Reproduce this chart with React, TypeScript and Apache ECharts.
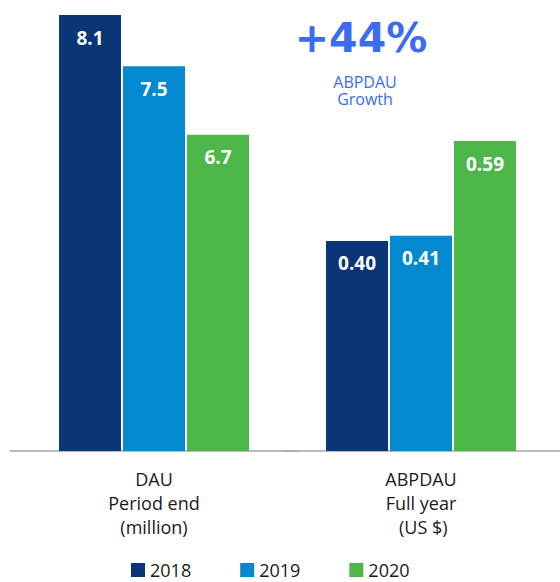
import React, { useEffect, useRef } from "react";
import * as echarts from "echarts";

const years = ["2018", "2019", "2020"];
const dauValues = [8.1, 7.5, 6.7];
const abpdauValues = [0.4, 0.41, 0.59];
const dauCategory = ["DAU\nPeriod end\n(million)"];
const abpdauCategory = ["ABPDAU\nFull year\n (US $)"];
const colors = ["#0A3577", "#0389CF", "#4EB749"];
const headline = "+44%";
const headlineSubLines = ["ABPDAU", "Growth"];

const FONT = "'Open Sans', 'Noto Sans', sans-serif";

export default function App() {
  const ref = useRef<HTMLDivElement>(null);
  useEffect(() => {
    if (!ref.current) return;
    const chart = echarts.init(ref.current, null, { renderer: "svg" });
    const labelBase = {
      show: true,
      position: "insideTop",
      distance: 13,
      color: "#ffffff",
      fontFamily: FONT,
      fontWeight: "bold",
      fontSize: 19,
    };
    const series: any[] = [];
    years.forEach((y, i) => {
      series.push({
        name: y,
        type: "bar",
        xAxisIndex: 0,
        yAxisIndex: 0,
        data: [dauValues[i]],
        barWidth: 62,
        barGap: "3.2%",
        itemStyle: { color: colors[i] },
        label: { ...labelBase, formatter: (p: any) => Number(p.value).toFixed(1) },
      });
    });
    years.forEach((y, i) => {
      series.push({
        name: y,
        type: "bar",
        xAxisIndex: 1,
        yAxisIndex: 1,
        data: [abpdauValues[i]],
        barWidth: 62,
        barGap: "3.2%",
        itemStyle: { color: colors[i] },
        label: { ...labelBase, formatter: (p: any) => Number(p.value).toFixed(2) },
      });
    });
    const xAxisBase = {
      type: "category",
      axisLine: { show: true, lineStyle: { color: "#A6A6A6", width: 1.6 } },
      axisTick: { show: false },
      axisLabel: {
        color: "#1a1a1a",
        fontFamily: FONT,
        fontSize: 18,
        lineHeight: 24,
        margin: 16,
        interval: 0,
      },
    };
    const yAxisBase = {
      type: "value",
      show: false,
      splitLine: { show: false },
    };
    const blue = "#3B6CF0";
    chart.setOption({
      animation: false,
      backgroundColor: "#ffffff",
      grid: [
        { left: 10, width: 288, top: 15, bottom: 131 },
        { left: 282, right: 0, top: 15, bottom: 131 },
      ],
      xAxis: [
        { ...xAxisBase, gridIndex: 0, data: dauCategory },
        { ...xAxisBase, gridIndex: 1, data: abpdauCategory },
      ],
      yAxis: [
        { ...yAxisBase, gridIndex: 0, min: 3, max: 8.1 },
        { ...yAxisBase, gridIndex: 1, min: 0, max: 0.83 },
      ],
      legend: {
        data: years,
        left: 126,
        top: 556,
        itemWidth: 14,
        itemHeight: 14,
        itemGap: 49,
        icon: "rect",
        textStyle: { color: "#1a1a1a", fontFamily: FONT, fontSize: 18, lineHeight: 18 },
      },
      graphic: [
        {
          type: "text",
          x: 361,
          y: 38,
          style: {
            text: headline,
            fill: blue,
            font: "bold 41px 'DejaVu Sans', sans-serif",
            textAlign: "center",
            textVerticalAlign: "middle",
            align: "center",
            verticalAlign: "middle",
          },
        },
        ...headlineSubLines.map((t, i) => ({
          type: "text",
          x: 365,
          y: 81.5 + i * 17,
          style: {
            text: t,
            fill: blue,
            font: "16px 'Open Sans', sans-serif",
            lineHeight: 16,
            textAlign: "center",
            textVerticalAlign: "middle",
            align: "center",
            verticalAlign: "middle",
          },
        })),
      ],
      series,
    });
    return () => chart.dispose();
  }, []);
  return (
    <div
      ref={ref}
      style={{ position: "fixed", left: 0, top: 0, width: 560, height: 582 }}
    />
  );
}
